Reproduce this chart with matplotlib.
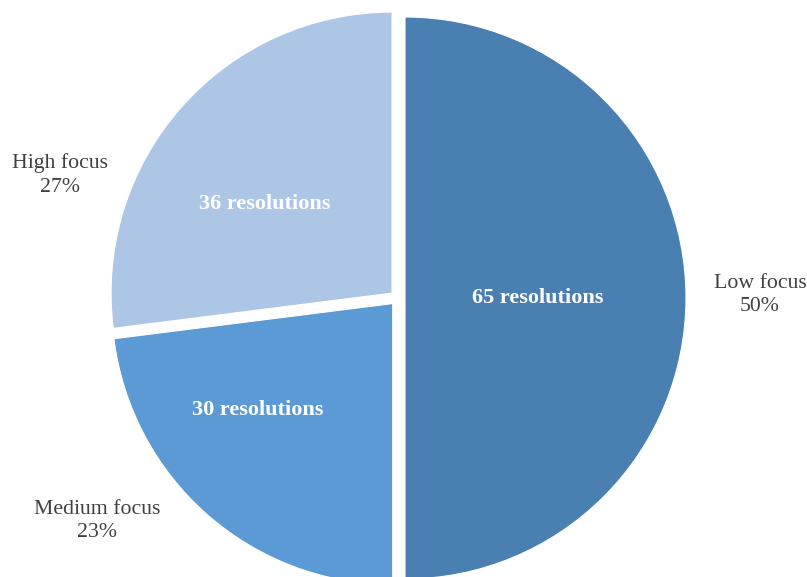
import matplotlib
matplotlib.use("Agg")
import matplotlib.pyplot as plt
import numpy as np

categories = ["Low focus", "Medium focus", "High focus"]
resolutions = [65, 30, 36]
percentages = [50, 23, 27]
colors = ["#4a7fb1", "#5b9ad5", "#aec6e6"]

W, H = 807, 577
fig = plt.figure(figsize=(W / 100, H / 100), dpi=100)
ax = fig.add_axes([0, 0, 1, 1])

cx, cy, R = 397.6, H - 298.0, 281.0
wedges, _ = ax.pie(percentages, colors=colors, startangle=90, counterclock=False,
                   center=(cx, cy), radius=R, explode=[7.4] * 3,
                   wedgeprops=dict(edgecolor="white", linewidth=0.8))
ax.set_xlim(0, W)
ax.set_ylim(0, H)
ax.set_aspect("equal")
ax.axis("off")

# label placement (fraction of radius, angle in degrees)
inner_pos = [(0.50, 0.0), (0.637, -141.3), (0.578, 144.7)]
outer_pos = [(1.29, 0.47), (1.332, -143.4), (1.279, 160.0)]

serif = ["Liberation Serif", "DejaVu Serif"]
for cat, v, p, (ri, ai), (ro, ao) in zip(categories, resolutions, percentages, inner_pos, outer_pos):
    a = np.deg2rad(ai)
    ax.text(cx + ri * R * np.cos(a), cy + ri * R * np.sin(a), f"{v} resolutions",
            ha="center", va="center", color="white", fontweight="bold",
            fontsize=16, family=serif)
    a = np.deg2rad(ao)
    ax.text(cx + ro * R * np.cos(a), cy + ro * R * np.sin(a), f"{cat}\n{p}%",
            ha="center", va="center", color="#404040", fontsize=15.7,
            family=serif, linespacing=1.32)

fig.savefig("out.png", dpi=100)
